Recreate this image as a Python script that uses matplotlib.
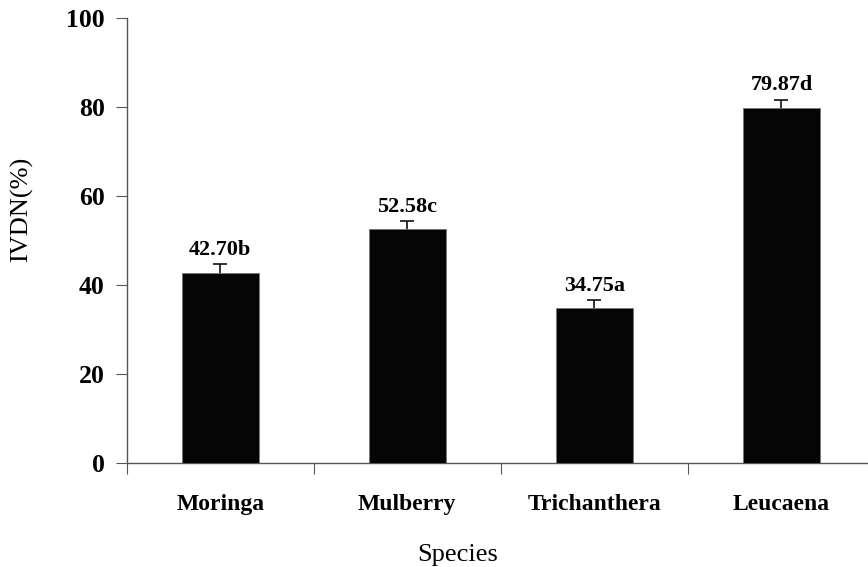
import numpy as np
import matplotlib
matplotlib.use("Agg")
from matplotlib import pyplot as plt
from matplotlib.ticker import FixedLocator

species = ['Moringa', 'Mulberry', 'Trichanthera', 'Leucaena']
ivdn = [42.70, 52.58, 34.75, 79.87]
err = [1.9, 1.7, 1.8, 1.8]
letters = ['b', 'c', 'a', 'd']

plt.rcParams['font.family'] = ['Liberation Serif', 'DejaVu Serif']

fig = plt.figure(figsize=(8.68, 5.67), dpi=100)
ax = fig.add_axes([0.146, 0.1834, 0.862, 0.785])

x = np.arange(len(species)) + 0.5
# bars drawn over the error bars so only the upper half shows
ax.bar(x, ivdn, width=0.41, color='#050505', edgecolor='#777777', linewidth=0.6, zorder=4)
ax.errorbar(x, ivdn, yerr=err, fmt='none', ecolor='#111111',
            elinewidth=1.2, capsize=5, capthick=1.2, zorder=3)

for xi, v, e, l in zip(x, ivdn, err, letters):
    ax.text(xi, v + e + 0.9, '%.2f%s' % (v, l), ha='center', va='bottom',
            fontsize=16, fontweight='bold')

ax.set_xlim(0, 4)
ax.set_ylim(0, 100)
ax.set_yticks([0, 20, 40, 60, 80, 100])
ax.set_yticklabels(['0', '20', '40', '60', '80', '100'], fontsize=18.5, fontweight='bold')

# category labels centred, ticks at category boundaries
ax.xaxis.set_major_locator(FixedLocator([0, 1, 2, 3]))
ax.set_xticklabels([])
ax.xaxis.set_minor_locator(FixedLocator(list(x)))
ax.set_xticklabels(species, minor=True, fontsize=17, fontweight='bold')
ax.tick_params(axis='x', which='minor', length=0, pad=22)
ax.tick_params(axis='x', which='major', length=8, color='#555555', direction='out')
ax.tick_params(axis='y', length=8, color='#555555', direction='out', pad=8)

for s in ['top', 'right']:
    ax.spines[s].set_visible(False)
for s in ['left', 'bottom']:
    ax.spines[s].set_color('#555555')
    ax.spines[s].set_linewidth(1.0)

ax.set_xlabel('Species', fontsize=19)
ax.xaxis.set_label_coords(0.4425, -0.183)
ax.set_ylabel('IVDN(%)', fontsize=19)
ax.yaxis.set_label_coords(-0.125, 0.569)

plt.savefig('out.png', dpi=100)
